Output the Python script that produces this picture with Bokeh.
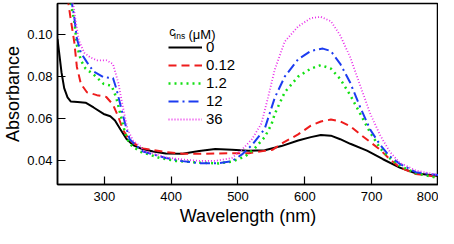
from bokeh.plotting import figure
from bokeh.models import Range1d, FixedTicker, PrintfTickFormatter, Legend, LegendItem, Label
from bokeh.embed import file_html
from bokeh.resources import INLINE

# ---- data ----
wl_0 = [230, 233, 236, 240, 245, 250, 260, 272, 284, 299, 309, 316, 324, 333, 343, 355, 373, 392, 417,
        442, 466, 491, 516, 540, 565, 590, 609, 624, 639, 653, 668, 693, 717, 742, 766, 800]
abs_0 = [0.098, 0.090, 0.082, 0.0745, 0.070, 0.068, 0.0678, 0.0675, 0.0652, 0.0621, 0.0610, 0.0590, 0.0548,
         0.0502, 0.0472, 0.0455, 0.0441, 0.0432, 0.0430, 0.0443, 0.0453, 0.0450, 0.0445, 0.0447, 0.0467,
         0.0494, 0.0510, 0.0520, 0.0517, 0.0500, 0.0478, 0.0445, 0.0404, 0.0364, 0.0337, 0.0323]

wl_012 = [245, 250, 255, 259, 265, 274, 289, 303, 313, 321, 328, 338, 353, 358, 392, 417, 442, 470, 516,
          552, 569, 590, 609, 624, 639, 653, 668, 683, 698, 713, 727, 742, 766, 800]
abs_012 = [0.118, 0.107, 0.0968, 0.0846, 0.0765, 0.0725, 0.0711, 0.0702, 0.0666, 0.0607, 0.0545, 0.0494,
           0.0463, 0.0456, 0.0438, 0.0430, 0.0430, 0.0432, 0.0433, 0.0450, 0.0486, 0.0523, 0.0565, 0.0585,
           0.0594, 0.0585, 0.0562, 0.0523, 0.0486, 0.0449, 0.0404, 0.0365, 0.0333, 0.0320]

wl_12 = [248, 255, 259, 265, 272, 284, 299, 311, 318, 324, 331, 338, 353, 383, 407, 442, 471, 491, 511,
         525, 540, 550, 555, 570, 590, 609, 624, 639, 653, 668, 683, 698, 713, 727, 742, 766, 800]
abs_12 = [0.118, 0.107, 0.095, 0.0878, 0.0838, 0.0810, 0.0765, 0.0756, 0.0698, 0.0621, 0.0531, 0.0477,
          0.0441, 0.0410, 0.0396, 0.0388, 0.0384, 0.0393, 0.0418, 0.0456, 0.0510, 0.0570, 0.0621, 0.0725,
          0.0800, 0.0838, 0.0855, 0.0838, 0.0788, 0.0711, 0.0621, 0.0531, 0.0455, 0.0409, 0.0373, 0.0337,
          0.0314]

wl_120 = [250, 255, 259, 265, 274, 284, 299, 313, 318, 324, 331, 338, 353, 358, 392, 417, 442, 471, 491,
          506, 521, 540, 555, 570, 590, 609, 627, 639, 653, 668, 683, 698, 713, 727, 742, 766, 800]
abs_120 = [0.118, 0.1086, 0.0982, 0.0914, 0.0869, 0.0824, 0.0797, 0.0793, 0.0743, 0.0666, 0.0576, 0.0500,
           0.0454, 0.0441, 0.0410, 0.0395, 0.0385, 0.0385, 0.0395, 0.0427, 0.0472, 0.0550, 0.0698, 0.0800,
           0.0883, 0.0923, 0.0934, 0.0922, 0.0861, 0.0770, 0.0652, 0.0545, 0.0472, 0.0418, 0.0382, 0.0342,
           0.0328]

wl_360 = [252, 257, 262, 270, 279, 289, 303, 313, 321, 328, 335, 343, 355, 358, 392, 417, 442, 466, 491,
          506, 521, 535, 545, 555, 570, 590, 609, 624, 639, 653, 668, 683, 698, 713, 727, 742, 766, 800]
abs_360 = [0.118, 0.107, 0.0973, 0.0914, 0.0892, 0.0878, 0.0878, 0.0860, 0.0770, 0.0652, 0.0545, 0.0494,
           0.0463, 0.0445, 0.0413, 0.0403, 0.0396, 0.0396, 0.0410, 0.0450, 0.0500, 0.0575, 0.0700, 0.0833,
           0.0968, 0.1040, 0.1080, 0.1086, 0.1065, 0.0997, 0.0892, 0.0756, 0.0621, 0.0517, 0.0441, 0.0387,
           0.0350, 0.0328]

legend_labels = ["0", "0.12", "1.2", "12", "36"]
x_ticks = [300, 400, 500, 600, 700, 800]
y_ticks = [0.04, 0.06, 0.08, 0.10]

FONT = "Liberation Sans"

p = figure(width=438, height=228, output_backend="svg", toolbar_location=None,
           x_range=Range1d(230, 800), y_range=Range1d(0.0283, 0.115),
           min_border_left=0, min_border_right=0, min_border_top=3, min_border_bottom=0)
p.background_fill_color = "white"
p.border_fill_color = "white"
p.grid.visible = False
p.outline_line_color = "black"
p.outline_line_width = 1.5
p.outline_line_alpha = 1

for ax in (p.xaxis[0], p.yaxis[0]):
    ax.axis_line_width = 1.5
    ax.axis_line_color = "black"
    ax.major_tick_in = 8
    ax.major_tick_out = 0
    ax.major_tick_line_width = 1.2
    ax.minor_tick_in = 0
    ax.minor_tick_out = 0
    ax.major_label_text_font = FONT
    ax.major_label_text_font_size = "13px"
    ax.major_label_text_color = "black"
    ax.axis_label_text_font = FONT
    ax.axis_label_text_font_size = "18px"
    ax.axis_label_text_font_style = "normal"
    ax.axis_label_text_color = "black"

p.xaxis.ticker = FixedTicker(ticks=x_ticks)
p.yaxis.ticker = FixedTicker(ticks=y_ticks)
p.yaxis.formatter = PrintfTickFormatter(format="%.2f")
p.xaxis.axis_label = "Wavelength (nm)"
p.yaxis.axis_label = "Absorbance"
p.xaxis.major_label_standoff = 7
p.yaxis.major_label_standoff = 5
p.xaxis.axis_label_standoff = 2
p.yaxis.axis_label_standoff = 1

r0 = p.line(wl_0, abs_0, line_color="black", line_width=2)
r1 = p.line(wl_012, abs_012, line_color="#ee1c1c", line_width=2, line_dash="8 5")
r2 = p.line(wl_12, abs_12, line_color="#14e014", line_width=2.5, line_dash="2 4")
r3 = p.line(wl_120, abs_120, line_color="#1c3cf0", line_width=2, line_dash="10 4 2 4")
r4 = p.line(wl_360, abs_360, line_color="#ea30ea", line_width=1.8, line_dash="1 2")

legend = Legend(items=[LegendItem(label=l, renderers=[r]) for l, r in zip(legend_labels, [r0, r1, r2, r3, r4])],
                location=(111, 57), orientation="vertical",
                border_line_color=None, background_fill_alpha=0,
                padding=0, margin=0, spacing=1,
                glyph_width=34, glyph_height=16, label_height=16, label_standoff=4,
                label_text_font=FONT, label_text_font_size="15px", label_text_color="black")
p.add_layout(legend, "center")

# legend title c_Ins (uM)
title_c = Label(x=397, y=0.1012, text="c", text_font=FONT, text_font_size="12px",
                text_baseline="alphabetic", text_color="black")
title_sub = Label(x=404, y=0.0995, text="Ins", text_font=FONT, text_font_size="8.5px",
                  text_baseline="alphabetic", text_color="black")
title_unit = Label(x=426, y=0.1002, text="(\u03bcM)", text_font=FONT, text_font_size="13px",
                   text_baseline="alphabetic", text_color="black")
for lab in (title_c, title_sub, title_unit):
    p.add_layout(lab)

open("out.html", "w").write(file_html(p, INLINE))
